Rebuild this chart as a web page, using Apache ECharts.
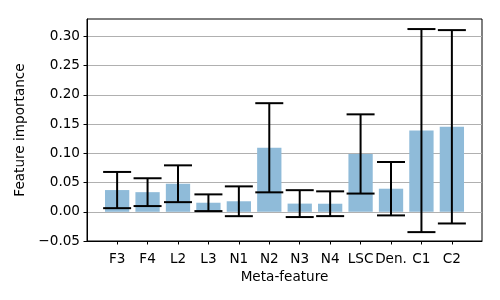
<!DOCTYPE html>
<html>
<head>
<meta charset="utf-8">
<script src="https://cdn.jsdelivr.net/npm/echarts@6/dist/echarts.min.js"></script>
<style>html,body{margin:0;padding:0;background:#fff;}#c{width:500px;height:300px;}</style>
</head>
<body>
<div id="c"></div>
<script>
var categories = ['F3','F4','L2','L3','N1','N2','N3','N4','LSC','Den.','C1','C2'];
var importance = [0.0372,0.0336,0.048,0.0155,0.018,0.1096,0.014,0.0138,0.099,0.0395,0.139,0.1455];
var errors = [0.031,0.0238,0.0315,0.0143,0.0255,0.0763,0.023,0.0212,0.0678,0.0457,0.1738,0.1655];
var yTicks = [-0.05,0,0.05,0.10,0.15,0.20,0.25,0.30];

var idx = categories.map(function(_, i){ return i; });
var barData = importance.map(function(v, i){ return [i, v]; });
var errData = importance.map(function(v, i){ return [i, v - errors[i], v + errors[i]]; });
var FONT = 'DejaVu Sans';

var chart = echarts.init(document.getElementById('c'), null, {renderer: 'canvas'});
chart.setOption({
  animation: false,
  backgroundColor: '#fff',
  grid: {left: 87, right: 18, top: 19, bottom: 59, show: true, borderColor: '#000', borderWidth: 1, backgroundColor: 'transparent'},
  xAxis: {
    type: 'value', min: -0.99, max: 11.99,
    name: 'Meta-feature', nameLocation: 'middle', nameGap: 29,
    nameTextStyle: {fontFamily: FONT, fontSize: 13.6, color: '#000'},
    axisLine: {show: true, onZero: false, lineStyle: {color: '#000', width: 1}},
    axisTick: {show: true, customValues: idx, length: 3.5, lineStyle: {color: '#000', width: 1}},
    axisLabel: {customValues: idx, margin: 11, fontFamily: FONT, fontSize: 13.6, color: '#000',
      formatter: function(v){ return categories[Math.round(v)] || ''; }},
    splitLine: {show: false}
  },
  yAxis: {
    type: 'value', min: -0.05, max: 0.33, interval: 0.05,
    name: 'Feature importance', nameLocation: 'middle', nameGap: 54,
    nameTextStyle: {fontFamily: FONT, fontSize: 13.6, color: '#000'},
    axisLine: {show: true, onZero: false, lineStyle: {color: '#000', width: 1}},
    axisTick: {show: true, customValues: yTicks, length: 3.5, lineStyle: {color: '#000', width: 1}},
    axisLabel: {customValues: yTicks, margin: 7, fontFamily: FONT, fontSize: 13.6, color: '#000',
      formatter: function(v){ var s = Math.abs(v).toFixed(2); return (v < -1e-9 ? '\u2212' : '') + s; }},
    splitLine: {show: true, lineStyle: {color: '#b0b0b0', width: 1}}
  },
  series: [
    {
      type: 'bar', data: barData, barWidth: 24.3,
      itemStyle: {color: '#8fbbd9'}, z: 2
    },
    {
      type: 'custom', data: errData, z: 5,
      renderItem: function(params, api){
        var x = api.value(0);
        var lo = api.coord([x, api.value(1)]);
        var hi = api.coord([x, api.value(2)]);
        var cw = 14;
        var st = {stroke: '#000', lineWidth: 2};
        return {type: 'group', children: [
          {type: 'line', shape: {x1: lo[0], y1: lo[1], x2: hi[0], y2: hi[1]}, style: st},
          {type: 'line', shape: {x1: lo[0]-cw, y1: lo[1], x2: lo[0]+cw, y2: lo[1]}, style: st},
          {type: 'line', shape: {x1: hi[0]-cw, y1: hi[1], x2: hi[0]+cw, y2: hi[1]}, style: st}
        ]};
      }
    }
  ]
});
</script>
</body>
</html>
